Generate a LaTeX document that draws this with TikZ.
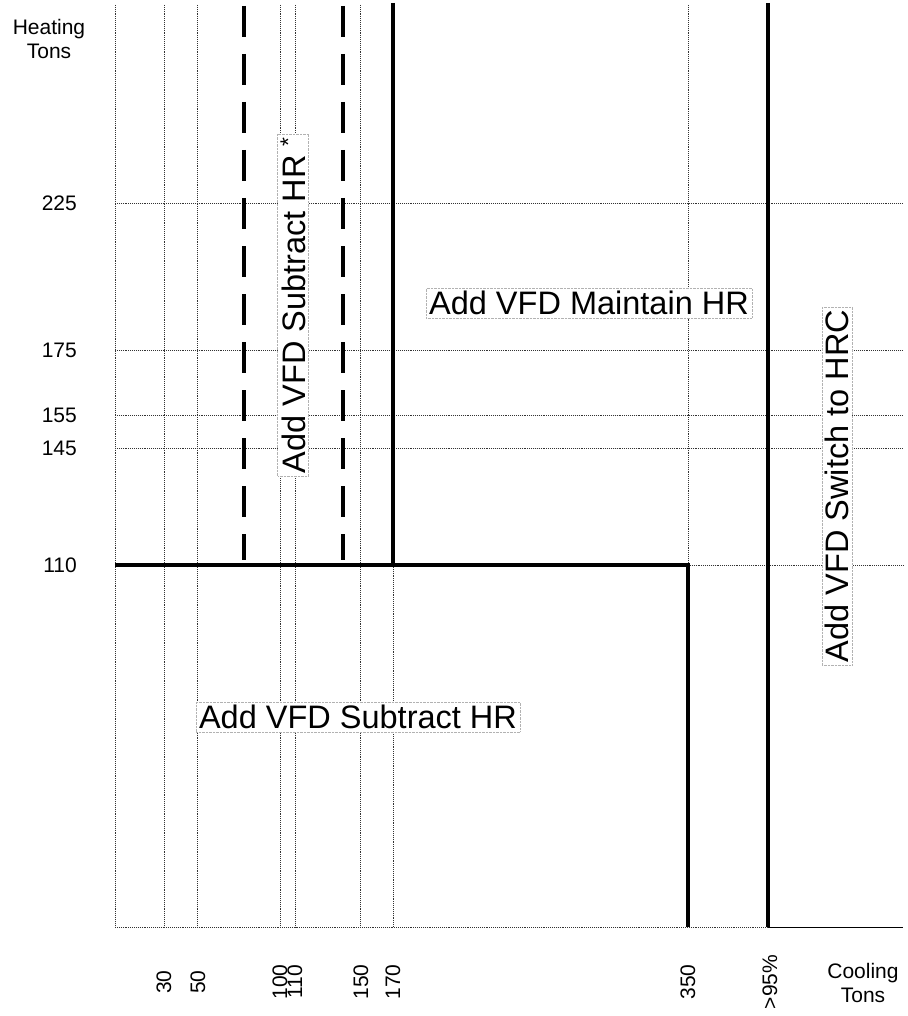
\documentclass[tikz,border=0pt]{standalone}
\usepackage{fontspec}
\setmainfont{Liberation Sans}
\begin{document}
\begin{tikzpicture}[x=1pt,y=-1pt,
  grid/.style={densely dotted, line width=0.9pt, black!80},
  heavy/.style={line width=3.2pt, black},
  dashv/.style={line width=4pt, black, dash pattern=on 31pt off 17pt},
  small/.style={font=\fontsize{21}{24}\selectfont, inner sep=0pt},
  region/.style={font=\fontsize{32.5}{38}\selectfont, fill=white, draw=black!30, densely dotted, inner sep=3pt}
]
\useasboundingbox (0,0) rectangle (907,1016);
% grid lines
\foreach \x in {115,164,197,280,295,360} \draw[grid] (\x,5) -- (\x,927);
\draw[grid] (393,565) -- (393,927);
\draw[grid] (688,5) -- (688,565);
\foreach \y in {203,350,415,448} \draw[grid] (115,\y) -- (903,\y);
\draw[grid] (688,565) -- (903,565);
\draw[grid] (115,927) -- (768,927);
\draw[line width=1pt] (768,927) -- (903,927);
% heavy boundaries
\draw[heavy] (393,3) -- (393,565);
\draw[heavy, line width=3.6pt] (115,565) -- (688,565) -- (688,927);
\draw[heavy] (768,3) -- (768,927);
\draw[dashv] (244,6) -- (244,560);
\draw[dashv] (343,6) -- (343,560);
% axis labels
\node[small, align=center] (ht) at (49,39) {Heating\\Tons};
\node[small, anchor=east] (y225) at (77,203) {225};
\node[small, anchor=east] (y175) at (77,350) {175};
\node[small, anchor=east] (y155) at (77,415) {155};
\node[small, anchor=east] (y145) at (77,448) {145};
\node[small, anchor=east] (y110) at (77,565) {110};
\node[small, rotate=90] (x30) at (164,982) {30};
\node[small, rotate=90] (x50) at (198,982) {50};
\node[small, rotate=90] (x100) at (280,982) {100};
\node[small, rotate=90] (x110) at (295,982) {110};
\node[small, rotate=90] (x150) at (361,982) {150};
\node[small, rotate=90] (x170) at (393,982) {170};
\node[small, rotate=90] (x350) at (688,982) {350};
\node[small, rotate=90] (x95) at (770,982) {>95\%};
\node[small, align=center] (ct) at (863,983) {Cooling\\Tons};
% region labels
\node[region, rotate=90] (r1) at (293,305) {Add VFD Subtract HR \textsuperscript{*}};
\node[region] (r2) at (589,303) {Add VFD Maintain HR};
\node[region] (r3) at (358,717) {Add VFD Subtract HR};
\node[region, rotate=90] (r4) at (837,486) {Add VFD Switch to HRC};
\end{tikzpicture}
\end{document}
